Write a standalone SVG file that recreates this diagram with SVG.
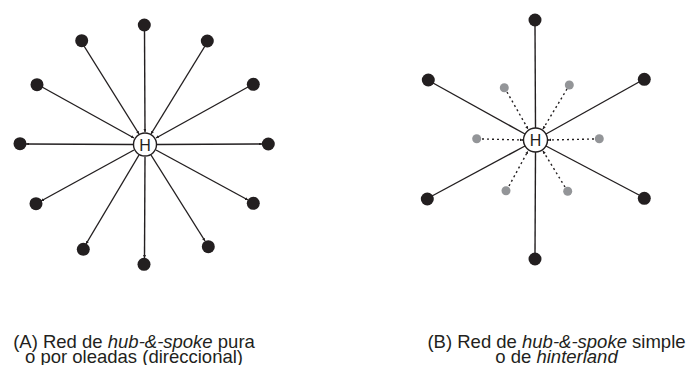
<svg xmlns="http://www.w3.org/2000/svg" width="691" height="365" viewBox="0 0 691 365">
  <style>
    .spoke { stroke: #231f20; stroke-width: 1.4; fill: none; }
    .dot { stroke: #231f20; stroke-width: 1.4; stroke-dasharray: 2 3; fill: none; }
    .node { fill: #231f20; }
    .minor { fill: #939598; }
    .hub { fill: #ffffff; stroke: #231f20; stroke-width: 1.4; }
    .hubtxt { font-family: "Liberation Sans", Arial, sans-serif; font-size: 16px; fill: #231f20; text-anchor: middle; }
    .cap { font-family: "Liberation Sans", Arial, sans-serif; font-size: 18.5px; fill: #231f20; text-anchor: middle; }
    .it { font-style: italic; }
  </style>
  <defs>
    <marker id="tip" viewBox="0 0 6 6" refX="6" refY="3" markerWidth="3" markerHeight="3" orient="auto" markerUnits="userSpaceOnUse">
      <path d="M0,0 L6,3 L0,6 Z" fill="#231f20"/>
    </marker>
  </defs>

  <!-- connectors: pure hub-and-spoke (A) -->
  <g id="connectors-a">
    <line class="spoke" x1="144.5" y1="30" x2="145" y2="132" marker-end="url(#tip)"/>
    <line class="spoke" x1="84" y1="46" x2="139" y2="134" marker-end="url(#tip)"/>
    <line class="spoke" x1="205" y1="46" x2="151" y2="134" marker-end="url(#tip)"/>
    <line class="spoke" x1="42" y1="87" x2="134" y2="138" marker-end="url(#tip)"/>
    <line class="spoke" x1="248" y1="87" x2="156" y2="138" marker-end="url(#tip)"/>
    <line class="spoke" x1="133" y1="144.5" x2="26" y2="144" marker-end="url(#tip)"/>
    <line class="spoke" x1="157" y1="144.5" x2="262" y2="144" marker-end="url(#tip)"/>
    <line class="spoke" x1="134" y1="150" x2="41" y2="201" marker-end="url(#tip)"/>
    <line class="spoke" x1="156" y1="150" x2="248" y2="200" marker-end="url(#tip)"/>
    <line class="spoke" x1="139" y1="155" x2="86" y2="244" marker-end="url(#tip)"/>
    <line class="spoke" x1="151" y1="155" x2="205" y2="241" marker-end="url(#tip)"/>
    <line class="spoke" x1="145" y1="157" x2="144.5" y2="258" marker-end="url(#tip)"/>
  </g>

  <!-- connectors: hinterland (B) -->
  <g id="connectors-b">
    <line class="spoke" x1="535" y1="26" x2="535.5" y2="128"/>
    <line class="spoke" x1="535.5" y1="152" x2="535" y2="253"/>
    <line class="spoke" x1="433" y1="83" x2="525" y2="134"/>
    <line class="spoke" x1="639" y1="82" x2="546" y2="134"/>
    <line class="spoke" x1="432" y1="196" x2="525" y2="146"/>
    <line class="spoke" x1="639" y1="195" x2="546" y2="146"/>
    <line class="dot" x1="507" y1="92" x2="528" y2="129" marker-end="url(#tip)"/>
    <line class="dot" x1="567" y1="89" x2="543" y2="129" marker-end="url(#tip)"/>
    <line class="dot" x1="482" y1="139" x2="523" y2="140" marker-end="url(#tip)"/>
    <line class="dot" x1="594" y1="139" x2="548" y2="140" marker-end="url(#tip)"/>
    <line class="dot" x1="509" y1="186" x2="528" y2="151" marker-end="url(#tip)"/>
    <line class="dot" x1="565" y1="187" x2="543" y2="151" marker-end="url(#tip)"/>
  </g>

  <!-- hub A and its nodes -->
  <g id="hub-a">
    <circle class="hub" cx="145" cy="144.5" r="11.5"/>
    <text class="hubtxt" x="145" y="150.5">H</text>
  </g>
  <g id="nodes-a">
    <circle id="a1" class="node" cx="144.3" cy="25" r="6.5"/>
    <circle id="a2" class="node" cx="81.7" cy="40.7" r="6.5"/>
    <circle id="a3" class="node" cx="207.3" cy="41" r="6.5"/>
    <circle id="a4" class="node" cx="37" cy="84.7" r="6.5"/>
    <circle id="a5" class="node" cx="253.3" cy="84.3" r="6.5"/>
    <circle id="a6" class="node" cx="20" cy="143.7" r="6.5"/>
    <circle id="a7" class="node" cx="268.3" cy="144" r="6.5"/>
    <circle id="a8" class="node" cx="36" cy="203.7" r="6.5"/>
    <circle id="a9" class="node" cx="253.3" cy="203.3" r="6.5"/>
    <circle id="a10" class="node" cx="83.3" cy="249.3" r="6.5"/>
    <circle id="a11" class="node" cx="208.3" cy="246.7" r="6.5"/>
    <circle id="a12" class="node" cx="144" cy="264.3" r="6.5"/>
  </g>

  <!-- hub B and its nodes -->
  <g id="hub-b">
    <circle class="hub" cx="535.5" cy="140" r="12"/>
    <text class="hubtxt" x="535.5" y="146">H</text>
  </g>
  <g id="nodes-b">
    <circle id="b1" class="node" cx="535" cy="20" r="6.5"/>
    <circle id="b2" class="node" cx="428.3" cy="80" r="6.5"/>
    <circle id="b3" class="node" cx="644.3" cy="79.3" r="6.5"/>
    <circle id="b4" class="node" cx="427.3" cy="199" r="6.5"/>
    <circle id="b5" class="node" cx="644.3" cy="198.3" r="6.5"/>
    <circle id="b6" class="node" cx="535" cy="259" r="6.5"/>
    <circle id="g1" class="minor" cx="504.3" cy="87.7" r="4.5"/>
    <circle id="g2" class="minor" cx="569.3" cy="85" r="4.5"/>
    <circle id="g3" class="minor" cx="476.7" cy="138.7" r="4.5"/>
    <circle id="g4" class="minor" cx="599.3" cy="138.7" r="4.5"/>
    <circle id="g5" class="minor" cx="506" cy="190.7" r="4.5"/>
    <circle id="g6" class="minor" cx="567.7" cy="191.3" r="4.5"/>
  </g>

  <!-- captions -->
  <g id="caption-a">
    <text class="cap" x="134" y="348">(A) Red de <tspan class="it">hub-&amp;-spoke</tspan> pura</text>
    <text class="cap" x="134" y="363">o por oleadas (direccional)</text>
  </g>
  <g id="caption-b">
    <text class="cap" x="556.5" y="348">(B) Red de <tspan class="it">hub-&amp;-spoke</tspan> simple</text>
    <text class="cap" x="556.5" y="363">o de <tspan class="it">hinterland</tspan></text>
  </g>
</svg>
